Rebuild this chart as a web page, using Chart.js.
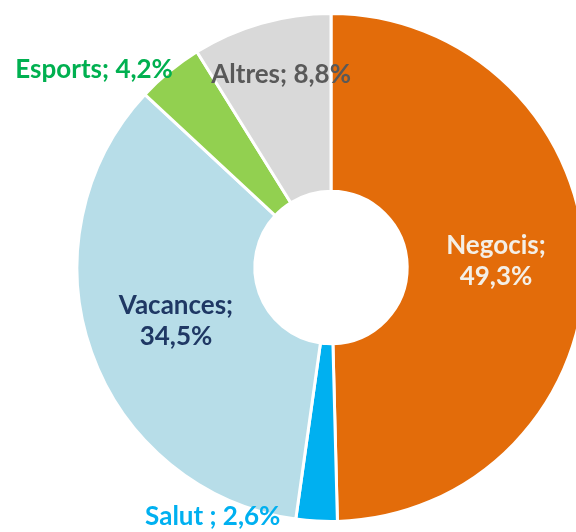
<!DOCTYPE html>
<html>
<head>
<meta charset="utf-8">
<script src="https://cdn.jsdelivr.net/npm/chart.js@4.4.1/dist/chart.umd.min.js"></script>
<style>
  html, body { margin: 0; padding: 0; background: #fff; overflow: hidden; }
  #wrap { width: 576px; height: 532px; overflow: hidden; }
</style>
</head>
<body>
<div id="wrap"><canvas id="chart" width="662" height="532"></canvas></div>
<script>
// categories and shares (%)
const categories = ["Negocis", "Salut ", "Vacances", "Esports", "Altres"];
const shares = [49.3, 2.6, 34.5, 4.2, 8.8];
const labelTexts = [["Negocis;", "49,3%"], ["Salut ; 2,6%"], ["Vacances;", "34,5%"], ["Esports; 4,2%"], ["Altres; 8,8%"]];

const sliceColors = ["#E36C0A", "#00B0F0", "#B7DDE8", "#92D050", "#D9D9D9"];
const textColors = ["#F4EFE6", "#00B0F0", "#1F3864", "#00B050", "#595959"];
// label placement: [radius factor, angle nudge in degrees]
const labelPlace = [[0.65, -1.4], [1.087, 22.1], [0.646, 0.4], [1.216, -10.6], [0.783, 1.4]];

const labelPlugin = {
  id: "sliceLabels",
  afterDatasetsDraw(chart) {
    const ctx = chart.ctx;
    const arcs = chart.getDatasetMeta(0).data;
    ctx.save();
    ctx.font = "bold 26px Lato";
    ctx.textAlign = "center";
    ctx.textBaseline = "middle";
    arcs.forEach((arc, i) => {
      const { x, y, startAngle, endAngle, outerRadius } = arc.getProps(["x", "y", "startAngle", "endAngle", "outerRadius"], true);
      const a = (startAngle + endAngle) / 2 + labelPlace[i][1] * Math.PI / 180;
      const r = outerRadius * labelPlace[i][0];
      const lx = x + r * Math.cos(a);
      const ly = y + r * Math.sin(a);
      const lines = labelTexts[i];
      const lh = 31;
      ctx.fillStyle = textColors[i];
      lines.forEach((t, j) => {
        ctx.fillText(t, lx, ly + (j - (lines.length - 1) / 2) * lh);
      });
    });
    ctx.restore();
  }
};

new Chart(document.getElementById("chart"), {
  type: "doughnut",
  data: {
    labels: categories,
    datasets: [{
      data: shares,
      backgroundColor: sliceColors,
      borderColor: "#ffffff",
      borderWidth: 3
    }]
  },
  options: {
    responsive: false,
    animation: false,
    cutout: "30%",
    layout: { padding: { top: 12, bottom: 9, left: 0, right: 0 } },
    plugins: {
      legend: { display: false },
      tooltip: { enabled: false }
    }
  },
  plugins: [labelPlugin]
});
</script>
</body>
</html>
